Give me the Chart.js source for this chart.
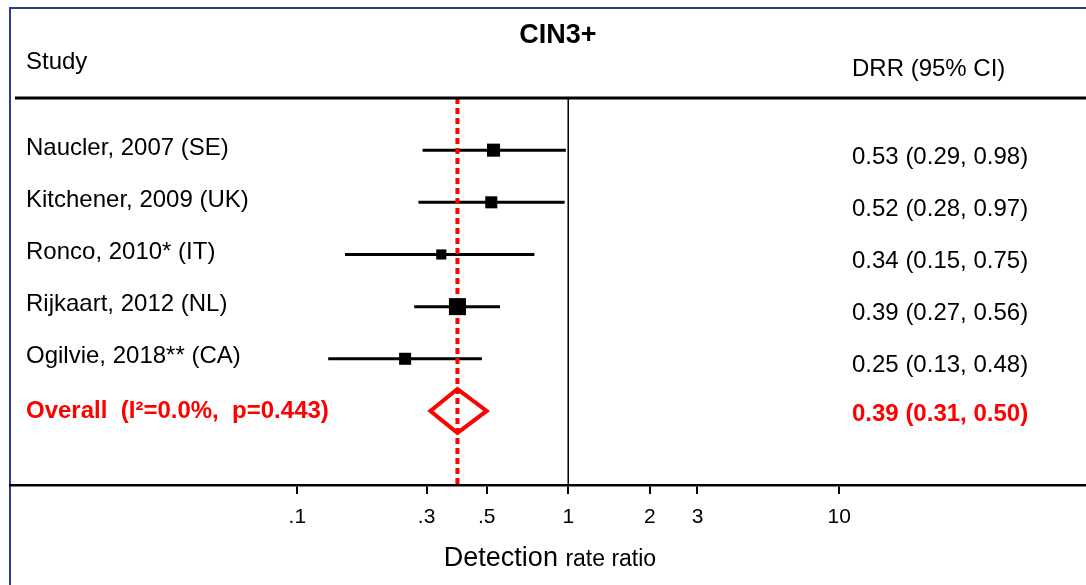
<!DOCTYPE html>
<html>
<head>
<meta charset="utf-8">
<script src="https://cdn.jsdelivr.net/npm/chart.js@4.4.1/dist/chart.umd.min.js"></script>
<style>
  html, body { margin: 0; padding: 0; background: #fff; }
  #wrap { width: 1086px; height: 585px; position: relative; }
</style>
</head>
<body>
<div id="wrap"><canvas id="forest" width="1086" height="585"></canvas></div>
<script>
// Data
const studies = ['Naucler, 2007 (SE)', 'Kitchener, 2009 (UK)', 'Ronco, 2010* (IT)', 'Rijkaart, 2012 (NL)', 'Ogilvie, 2018** (CA)'];
const estimates = [0.53, 0.52, 0.34, 0.39, 0.25];
const lowerCI = [0.29, 0.28, 0.15, 0.27, 0.13];
const upperCI = [0.98, 0.97, 0.75, 0.56, 0.48];
const weights = [20, 17, 12, 34, 17];
const overallLabel = 'Overall  (I\u00b2=0.0%,  p=0.443)';
const overall = [0.39, 0.31, 0.50];
const tickValues = [0.1, 0.3, 0.5, 1, 2, 3, 10];
const tickLabels = ['.1', '.3', '.5', '1', '2', '3', '10'];

const FONT = '"Liberation Sans", Arial, sans-serif';
const RED = '#ff0000';
const Y_MIN = -1, Y_MAX = 6.42;
const OVERALL_ROW = studies.length;

const fmt = v => v.toFixed(2);

// Datasets
const datasets = [];

studies.forEach((s, i) => {
    datasets.push({
        data: [{ x: lowerCI[i], y: i }, { x: upperCI[i], y: i }],
        showLine: true,
        borderColor: '#000',
        borderWidth: 3,
        pointRadius: 0,
        order: 3
    });
});

datasets.push({
    data: estimates.map((v, i) => ({ x: v, y: i })),
    showLine: false,
    pointStyle: 'rect',
    pointRadius: weights.map(w => 2.92 * Math.sqrt(w) / Math.SQRT2),
    backgroundColor: '#000',
    borderColor: '#000',
    borderWidth: 0,
    order: 0
});

// null line at 1
datasets.push({
    data: [{ x: 1, y: Y_MIN }, { x: 1, y: Y_MAX }],
    showLine: true,
    borderColor: '#000',
    borderWidth: 1.5,
    pointRadius: 0,
    order: 4
});

// overall estimate line
datasets.push({
    data: [{ x: overall[0], y: Y_MIN }, { x: overall[0], y: Y_MAX }],
    showLine: true,
    borderColor: RED,
    borderWidth: 4,
    borderDash: [6, 4],
    pointRadius: 0,
    order: 2
});

// diamond (first edge repeated so every corner gets a clean join)
datasets.push({
    data: [
        { x: overall[1], y: OVERALL_ROW },
        { x: overall[0], y: OVERALL_ROW - 0.42 },
        { x: overall[2], y: OVERALL_ROW },
        { x: overall[0], y: OVERALL_ROW + 0.42 },
        { x: overall[1], y: OVERALL_ROW },
        { x: overall[0], y: OVERALL_ROW - 0.42 }
    ],
    showLine: true,
    borderColor: RED,
    borderWidth: 4,
    borderJoinStyle: 'miter',
    pointRadius: 0,
    tension: 0,
    order: 1
});

// Texts and frame
const annotate = {
    id: 'annotate',
    beforeDraw(chart) {
        const ctx = chart.ctx;
        ctx.save();
        ctx.fillStyle = '#fff';
        ctx.fillRect(0, 0, chart.width, chart.height);
        // frame
        ctx.strokeStyle = '#2e3d8f';
        ctx.lineWidth = 2;
        ctx.beginPath();
        ctx.moveTo(10, 585);
        ctx.lineTo(10, 8);
        ctx.lineTo(1086, 8);
        ctx.stroke();
        ctx.restore();
    },
    afterDraw(chart) {
        const ctx = chart.ctx;
        const y = chart.scales.y;
        const area = chart.chartArea;
        ctx.save();

        // header rule
        ctx.strokeStyle = '#000';
        ctx.lineWidth = 3;
        ctx.beginPath();
        ctx.moveTo(15, area.top);
        ctx.lineTo(1086, area.top);
        ctx.stroke();

        ctx.textBaseline = 'middle';
        ctx.fillStyle = '#000';
        ctx.font = 'bold 27px ' + FONT;
        ctx.textAlign = 'center';
        ctx.fillText('CIN3+', 558, 36);

        ctx.font = '24px ' + FONT;
        ctx.textAlign = 'left';
        ctx.fillText('Study', 26, 62);
        ctx.fillText('DRR (95% CI)', 852, 69);

        studies.forEach((s, i) => {
            const py = y.getPixelForValue(i);
            ctx.fillText(s, 26, py - 2);
            ctx.fillText(fmt(estimates[i]) + ' (' + fmt(lowerCI[i]) + ', ' + fmt(upperCI[i]) + ')', 852, py + 7);
        });

        const oy = y.getPixelForValue(OVERALL_ROW);
        ctx.fillStyle = RED;
        ctx.font = 'bold 24px ' + FONT;
        ctx.fillText(overallLabel, 26, oy);
        ctx.fillText(fmt(overall[0]) + ' (' + fmt(overall[1]) + ', ' + fmt(overall[2]) + ')', 852, oy + 3);

        // axis title, mixed sizes
        ctx.fillStyle = '#000';
        ctx.font = '27px ' + FONT;
        const w1 = ctx.measureText('Detection ').width;
        ctx.font = '23px ' + FONT;
        const w2 = ctx.measureText('rate ratio').width;
        const start = 550 - (w1 + w2) / 2;
        ctx.textBaseline = 'alphabetic';
        ctx.font = '27px ' + FONT;
        ctx.fillText('Detection ', start, 566);
        ctx.font = '23px ' + FONT;
        ctx.fillText('rate ratio', start + w1, 566);

        ctx.restore();
    }
};

new Chart(document.getElementById('forest'), {
    type: 'scatter',
    data: { datasets },
    plugins: [annotate],
    options: {
        responsive: false,
        animation: false,
        devicePixelRatio: 1,
        layout: { autoPadding: false, padding: { top: 98, left: 10, right: 0, bottom: 0 } },
        plugins: {
            legend: { display: false },
            tooltip: { enabled: false }
        },
        scales: {
            x: {
                type: 'logarithmic',
                min: 0.0087,
                max: 81.5,
                afterBuildTicks: scale => {
                    scale.ticks = tickValues.map(v => ({ value: v }));
                },
                afterFit: scale => {
                    scale.height = 100;
                    scale.paddingLeft = 0;
                    scale.paddingRight = 0;
                },
                ticks: {
                    autoSkip: false,
                    maxRotation: 0,
                    padding: 11,
                    color: '#000',
                    font: { family: FONT, size: 21 },
                    callback: (v, i) => tickLabels[i]
                },
                grid: {
                    drawOnChartArea: false,
                    drawTicks: true,
                    tickLength: 9,
                    color: '#000',
                    lineWidth: 2
                },
                border: { display: true, color: '#000', width: 2.5 }
            },
            y: {
                type: 'linear',
                display: false,
                reverse: true,
                min: Y_MIN,
                max: Y_MAX
            }
        }
    }
});
</script>
</body>
</html>
